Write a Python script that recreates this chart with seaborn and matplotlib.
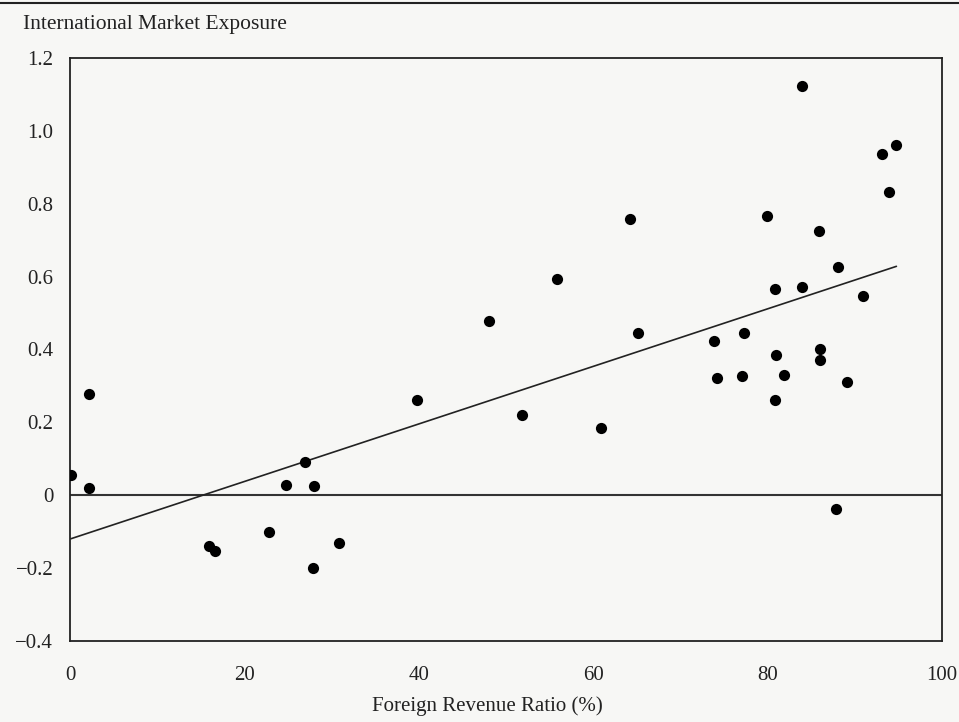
import seaborn as sns
import pandas as pd
import matplotlib.pyplot as plt
from matplotlib.lines import Line2D

sns.set_theme(style="white")
plt.rcParams['font.family'] = ['Liberation Serif', 'DejaVu Serif']

# foreign revenue ratio (%) and international market exposure
foreign_revenue = [0.1, 2.2, 2.2, 15.9, 16.6, 22.8, 24.8, 26.9, 28.0, 27.9,
                   30.9, 39.8, 48.1, 51.8, 55.9, 60.9, 64.2, 65.1, 73.9, 74.2,
                   77.1, 77.3, 79.9, 80.9, 80.9, 81.0, 81.9, 84.0, 84.0, 86.0,
                   86.0, 85.95, 87.9, 88.1, 89.1, 91.0, 93.1, 93.9, 94.8]
market_exposure = [0.056, 0.277, 0.020, -0.140, -0.154, -0.100, 0.029, 0.090, 0.026, -0.200,
                   -0.130, 0.260, 0.477, 0.219, 0.593, 0.185, 0.758, 0.444, 0.424, 0.322,
                   0.326, 0.446, 0.767, 0.566, 0.260, 0.384, 0.329, 0.570, 1.123, 0.402,
                   0.372, 0.726, -0.037, 0.627, 0.310, 0.547, 0.935, 0.832, 0.960]

x_ticks = [0, 20, 40, 60, 80, 100]
y_ticks = [-0.4, -0.2, 0, 0.2, 0.4, 0.6, 0.8, 1.0, 1.2]
y_tick_labels = ["\u22120.4", "\u22120.2", "0", "0.2", "0.4", "0.6", "0.8", "1.0", "1.2"]

df = pd.DataFrame({"ratio": foreign_revenue, "exposure": market_exposure})

fig = plt.figure(figsize=(9.59, 7.22), dpi=100)
fig.patch.set_facecolor("#f7f7f5")
ax = fig.add_axes([0.073, 0.112, 0.909, 0.808])
ax.set_facecolor("#f7f7f5")

# zero reference line
ax.axhline(0, color="#333333", linewidth=1.5, zorder=1)

# scatter + least squares line over the data range
sns.regplot(data=df, x="ratio", y="exposure", ci=None, truncate=True, ax=ax,
            scatter_kws={"s": 65, "color": "black", "linewidths": 0, "alpha": 1, "zorder": 3},
            line_kws={"color": "#222222", "linewidth": 1.2, "zorder": 2})

ax.set_xlim(0, 100)
ax.set_ylim(-0.4, 1.2)
ax.set_xticks(x_ticks)
ax.set_yticks(y_ticks)
ax.set_yticklabels(y_tick_labels)

ax.tick_params(axis="both", direction="in", length=7, width=1.1, color="#222222",
               labelsize=15, labelcolor="#222222")
ax.tick_params(axis="x", pad=18)
ax.tick_params(axis="y", pad=12)
for s in ax.spines.values():
    s.set_color("#222222")
    s.set_linewidth(1.3)

ax.set_ylabel("")
ax.set_xlabel("Foreign Revenue Ratio (%)", fontsize=15, color="#222222")
ax.xaxis.set_label_coords(0.479, -0.095)
fig.text(23 / 959, 1 - 24 / 722, "International Market Exposure", fontsize=15.5,
         color="#222222", ha="left", va="center")

# page rule at the top of the scan
fig.add_artist(Line2D([0, 1], [0.996, 0.996], color="#222222", linewidth=1.5))

plt.savefig("out.png", dpi=100, facecolor=fig.get_facecolor())
